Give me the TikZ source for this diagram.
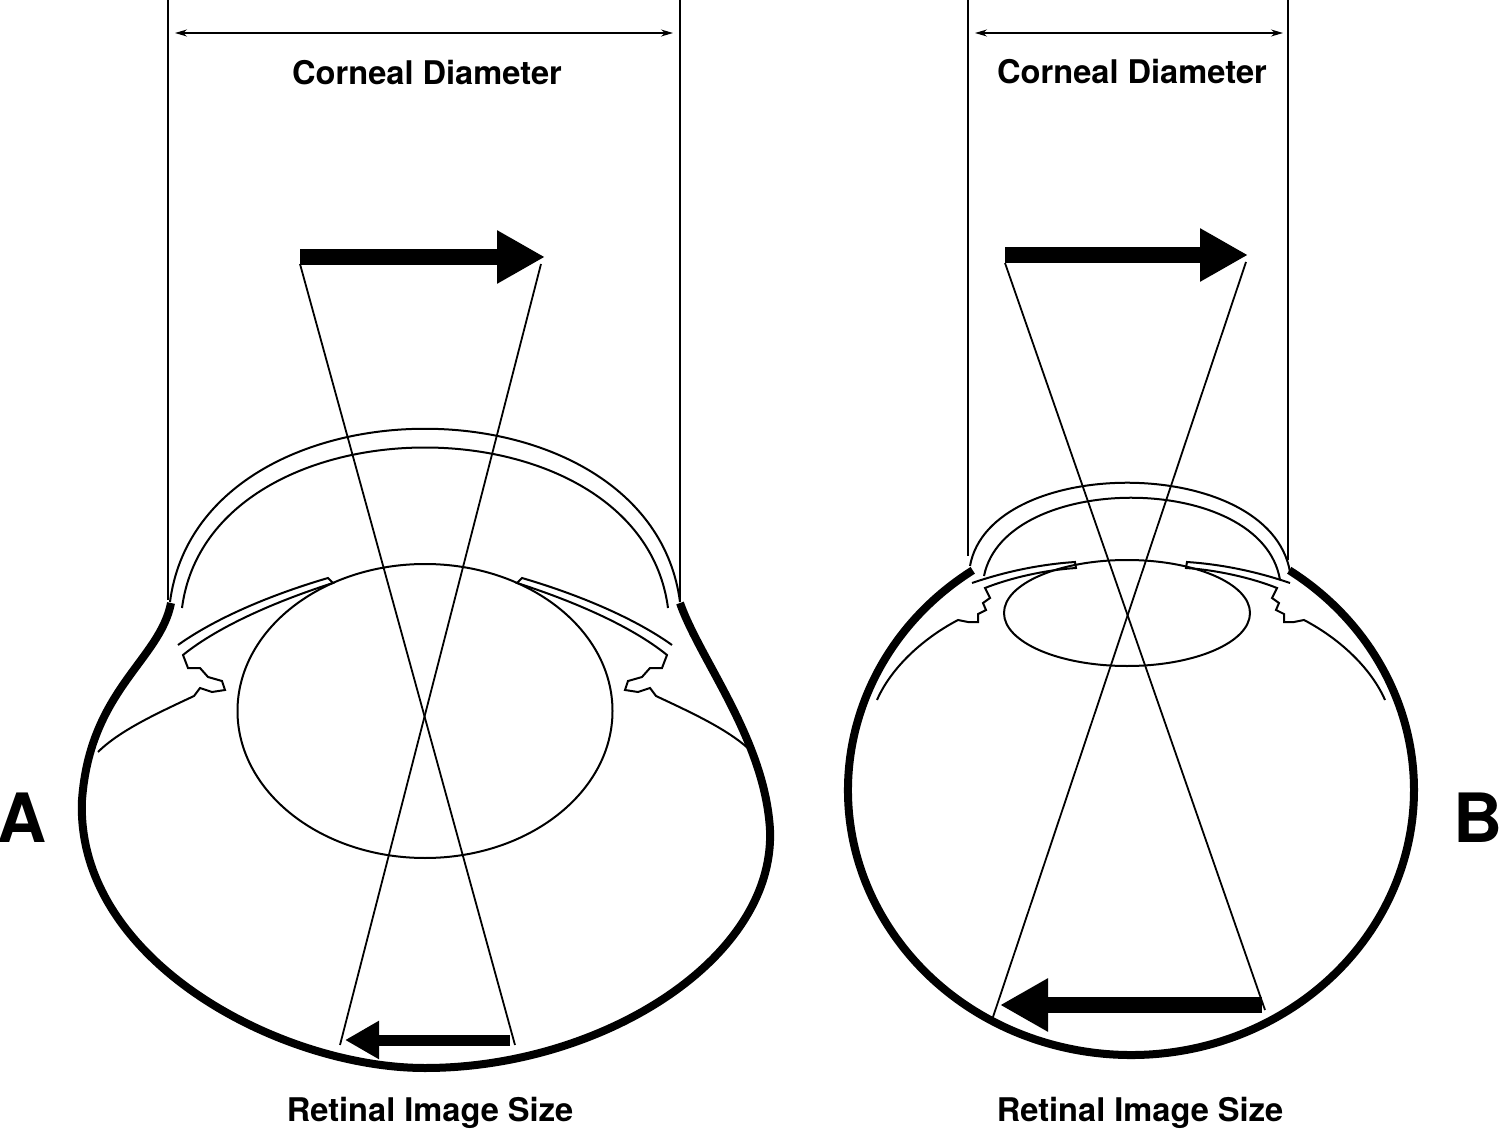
\documentclass[tikz,border=0pt]{standalone}
\usepackage{fontspec}
\setmainfont{TeX Gyre Heros}
\usetikzlibrary{arrows.meta,shapes.geometric}
\begin{document}
\begin{tikzpicture}[x=0.5pt,y=-0.5pt,
  thin line/.style={line width=1pt},
  globe/.style={line width=4pt},
  dim/.style={line width=0.6pt,{Stealth[length=6pt,width=3.5pt]}-{Stealth[length=6pt,width=3.5pt]}},
  ray/.style={line width=0.9pt},
  bigarrow/.style={line width=#1, -{Triangle[length=24pt,width=25pt]}},
  lbl/.style={font=\bfseries\fontsize{16.3}{19}\selectfont},
  letter/.style={font=\bfseries\fontsize{34}{40}\selectfont}]
\useasboundingbox (0,0) rectangle (1500,1134);
% ===== Eye A =====
\coordinate (aL0) at (168,0); \coordinate (aL1) at (168,600);
\coordinate (aR0) at (680,0); \coordinate (aR1) at (680,600);
\draw[thin line] (aL0) -- (aL1); \draw[thin line] (aR0) -- (aR1);
\coordinate (aD1) at (175,33); \coordinate (aD2) at (673,33);
\draw[dim] (aD1) -- (aD2);
\node[lbl] (aCD) at (427,73) {Corneal Diameter};
% cornea
\draw[thin line] (170,602) .. controls (200,371) and (650,371) .. (680,602);
\draw[thin line] (182,608) .. controls (210,394) and (640,394) .. (668,608);
% globe
\draw[globe] (171,603) .. controls (160,660) and (90,690) .. (82,800) .. controls (75,960) and (280,1068) .. (425,1068) .. controls (600,1068) and (775,960) .. (770,830) .. controls (765,740) and (700,660) .. (680,603);
% lens
\node[draw,thin line,ellipse,minimum width=187.5pt,minimum height=147pt,inner sep=0] (aLens) at (425,711) {};
% iris
\foreach \s/\c in {1/0, -1/850}{
\begin{scope}[shift={(\c,0)},xscale=\s]
\draw[thin line] (178,645) .. controls (220,615) and (280,592) .. (328,578) -- (333,583) .. controls (280,600) and (220,625) .. (183,655)
  -- (188,668) -- (200,668) -- (208,677) -- (222,681) -- (225,690) -- (212,692) -- (200,688) -- (194,696) .. controls (160,712) and (120,730) .. (98,752);
\end{scope}}
% arrows and rays
\coordinate (aT1) at (300,257); \coordinate (aT2) at (545,257);
\draw[bigarrow=8pt] (aT1) -- (aT2);
\coordinate (aB1) at (510,1040); \coordinate (aB2) at (345,1040);
\draw[line width=5.5pt,-{Triangle[length=17pt,width=18pt]}] (aB1) -- (aB2);
\coordinate (aR1s) at (300,264); \coordinate (aR1e) at (515,1045);
\coordinate (aR2s) at (541,264); \coordinate (aR2e) at (340,1045);
\draw[ray] (aR1s) -- (aR1e); \draw[ray] (aR2s) -- (aR2e);
\node[lbl] (aRI) at (430,1113) {Retinal Image Size};
\node[letter] (A) at (22,818) {A};
% ===== Eye B =====
\coordinate (bL0) at (968,0); \coordinate (bL1) at (968,556);
\coordinate (bR0) at (1288,0); \coordinate (bR1) at (1288,560);
\draw[thin line] (bL0) -- (bL1); \draw[thin line] (bR0) -- (bR1);
\coordinate (bD1) at (975,33); \coordinate (bD2) at (1283,33);
\draw[dim] (bD1) -- (bD2);
\node[lbl] (bCD) at (1132,72) {Corneal Diameter};
\draw[thin line] (970,566) .. controls (990,454) and (1270,454) .. (1290,572);
\draw[thin line] (984,576) .. controls (1005,471) and (1262,471) .. (1280,580);
\draw[globe] (1131,790) ++(-124:283 and 265) arc[start angle=-124,end angle=-416,x radius=283,y radius=265];
\node[draw,thin line,ellipse,minimum width=123pt,minimum height=53pt,inner sep=0] (bLens) at (1127,613) {};
\foreach \s/\c in {1/0, -1/2262}{
\begin{scope}[shift={(\c,0)},xscale=\s]
\draw[thin line] (972,583) .. controls (1010,570) and (1045,564) .. (1075,562) -- (1076,568) .. controls (1045,570) and (1010,578) .. (985,588)
  -- (990,598) -- (983,603) -- (986,610) -- (978,614) -- (978,622) -- (968,622) -- (958,620) .. controls (920,640) and (890,670) .. (877,700);
\end{scope}}
\coordinate (bT1) at (1005,255); \coordinate (bT2) at (1248,255);
\draw[bigarrow=8pt] (bT1) -- (bT2);
\coordinate (bB1) at (1262,1005); \coordinate (bB2) at (1000,1005);
\draw[bigarrow=8pt] (bB1) -- (bB2);
\coordinate (bR1s) at (1005,263); \coordinate (bR1e) at (1265,1010);
\coordinate (bR2s) at (1246,262); \coordinate (bR2e) at (992,1020);
\draw[ray] (bR1s) -- (bR1e); \draw[ray] (bR2s) -- (bR2e);
\node[lbl] (bRI) at (1140,1113) {Retinal Image Size};
\node[letter] (B) at (1478,818) {B};
\end{tikzpicture}
\end{document}
